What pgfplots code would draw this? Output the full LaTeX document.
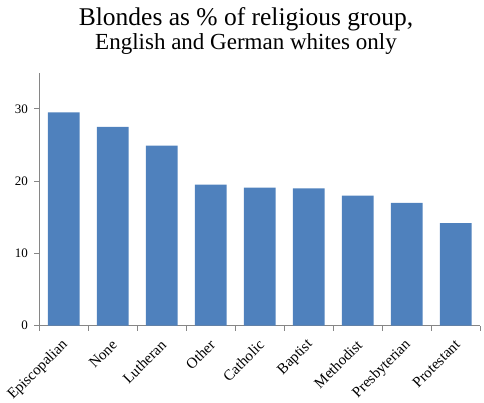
\documentclass[border=0pt]{standalone}
\usepackage{fontspec}
\setmainfont{Liberation Serif}
\usepackage{pgfplots}
\pgfplotsset{compat=1.18}
\definecolor{barblue}{HTML}{4F81BD}
\definecolor{axisgray}{HTML}{868686}
\begin{document}
\begin{tikzpicture}[x=1pt,y=1pt]
\useasboundingbox (0,0) rectangle (484,403);
\node[anchor=base,font=\fontsize{25.5}{28}\selectfont] at (246,377) {Blondes as \% of religious group,};
\node[anchor=base,font=\fontsize{23}{24}\selectfont] at (246,353) {English and German whites only};
\begin{axis}[
  at={(39.3pt,77.3pt)}, anchor=south west,
  scale only axis, width=441pt, height=253pt,
  xmin=-0.5, xmax=8.5, ymin=0, ymax=35,
  axis lines*=left,
  axis line style={draw=axisgray, line width=0.9pt},
  ybar, bar width=31.7pt,
  xtick={0,...,8},
  xticklabels={Episcopalian,None,Lutheran,Other,Catholic,Baptist,Methodist,Presbyterian,Protestant},
  major x tick style={draw=none},
  minor xtick={-0.5,0.5,...,8.5},
  minor x tick style={draw=axisgray, line width=0.9pt},
  minor tick length=5pt,
  ytick={0,10,20,30},
  major y tick style={draw=axisgray, line width=0.9pt},
  major tick length=5pt,
  tick align=outside,
  /pgf/number format/assume math mode=true,
  yticklabel style={font=\fontsize{13}{14}\selectfont, xshift=-3pt},
  xticklabel style={font=\fontsize{15}{16}\selectfont, rotate=45, anchor=east, xshift=-3.7pt, yshift=-9.6pt},
]
\addplot[fill=barblue, draw=none] coordinates {
(0,29.5) (1,27.5) (2,24.9) (3,19.5) (4,19.1) (5,19.0) (6,18.0) (7,17.0) (8,14.2)};
\end{axis}
\end{tikzpicture}
\end{document}
